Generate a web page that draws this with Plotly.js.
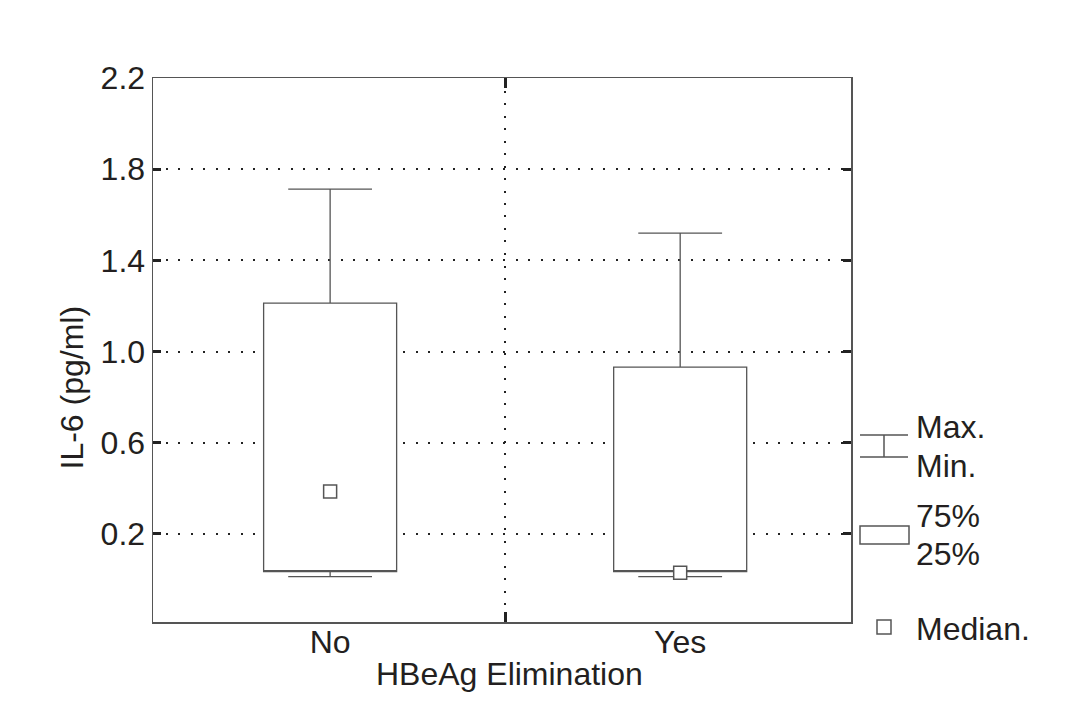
<!DOCTYPE html>
<html><head><meta charset="utf-8">
<script src="https://cdn.plot.ly/plotly-3.0.1.min.js"></script>
<style>body{margin:0;background:#fff}</style>
</head><body><div id="chart" style="width:1074px;height:720px"></div>
<script>
// ---- data ----
const categories = ['No', 'Yes'];
const minVals    = [0.013, 0.013];
const q1Vals     = [0.035, 0.035];
const medianVals = [0.386, 0.030];
const q3Vals     = [1.213, 0.932];
const maxVals    = [1.713, 1.520];
const yTickVals  = [0.2, 0.6, 1.0, 1.4, 1.8, 2.2];
const yTickText  = ['0.2', '0.6', '1.0', '1.4', '1.8', '2.2'];
const xTitle = 'HBeAg Elimination';
const yTitle = 'IL-6 (pg/ml)';
const legendTexts = ['Max.', 'Min.', '75%', '25%', 'Median.'];

const FONT = 'Liberation Sans, Arial, Helvetica, sans-serif';
const TXT = '#231f20';
const LINE = '#555555';
const DOT = '2px,10.5px';

// layout helpers for the hand-drawn legend (pixel -> paper)
const L = 153, R = 851, T = 78, B = 622;
const PX = X => (X - L) / (R - L);
const PY = Y => (B - Y) / (B - T);

const traces = [
  {
    type: 'box',
    x: categories,
    q1: q1Vals,
    median: q1Vals,          // median shown as square marker, not a line
    q3: q3Vals,
    lowerfence: minVals,
    upperfence: maxVals,
    boxpoints: false,
    width: 0.38,
    whiskerwidth: 0.63,
    fillcolor: '#ffffff',
    line: {color: LINE, width: 1.3},
    hoverinfo: 'skip',
    showlegend: false
  },
  {
    type: 'scatter',
    mode: 'markers',
    x: categories,
    y: medianVals,
    marker: {symbol: 'square', size: 13, color: '#ffffff', line: {color: LINE, width: 1.5}},
    hoverinfo: 'skip',
    showlegend: false,
    cliponaxis: false
  },
  {x: [], y: [], xaxis: 'x2', yaxis: 'y', type: 'scatter', showlegend: false, hoverinfo: 'skip'}
];

const shapes = [];
function seg(x0, y0, x1, y1) {
  shapes.push({type: 'line', xref: 'paper', yref: 'paper', x0: PX(x0), y0: PY(y0), x1: PX(x1), y1: PY(y1),
    line: {color: LINE, width: 1.5}});
}
seg(860, 435, 908, 435);
seg(860, 457, 908, 457);
seg(884, 435, 884, 457);
shapes.push({type: 'rect', xref: 'paper', yref: 'paper', x0: PX(860), x1: PX(909), y0: PY(544), y1: PY(526),
  line: {color: LINE, width: 1.5}, fillcolor: '#ffffff'});
shapes.push({type: 'rect', xref: 'paper', yref: 'paper', x0: PX(877), x1: PX(891), y0: PY(634), y1: PY(620),
  line: {color: LINE, width: 1.5}, fillcolor: '#ffffff'});

const legendY = [426.5, 466, 515.5, 553.5, 628.5];
const annotations = legendTexts.map((t, i) => ({
  text: t, xref: 'paper', yref: 'paper', x: PX(914), y: PY(legendY[i]),
  xanchor: 'left', yanchor: 'middle', showarrow: false,
  font: {family: FONT, size: 32, color: TXT}
}));
annotations.push({
  text: xTitle, xref: 'paper', yref: 'paper', x: PX(509), y: PY(673.5),
  xanchor: 'center', yanchor: 'middle', showarrow: false,
  font: {family: FONT, size: 32, color: TXT}
});
annotations.push({
  text: yTitle, xref: 'paper', yref: 'paper', x: PX(72), y: PY(387.5), textangle: -90,
  xanchor: 'center', yanchor: 'middle', showarrow: false,
  font: {family: FONT, size: 32, color: TXT}
});

const layout = {
  width: 1074, height: 720,
  margin: {l: L, r: 1074 - R, t: T, b: 720 - B},
  paper_bgcolor: '#ffffff', plot_bgcolor: '#ffffff',
  showlegend: false,
  font: {family: FONT, size: 32, color: TXT},
  xaxis: {
    type: 'category', range: [-0.506, 1.488],
    showgrid: false, zeroline: false, ticks: '',
    showline: true, mirror: true, linecolor: LINE, linewidth: 1.5,
    ticklabelstandoff: -9,
    tickfont: {family: FONT, size: 32, color: TXT}
  },
  xaxis2: {
    overlaying: 'x', anchor: 'y', type: 'linear', range: [-0.506, 1.488],
    tickvals: [0.5], showticklabels: false,
    ticks: 'inside', ticklen: 10, tickwidth: 3, tickcolor: '#222',
    mirror: 'ticks', showline: false, zeroline: false,
    showgrid: true, gridcolor: '#222', gridwidth: 2, griddash: DOT
  },
  yaxis: {
    range: [-0.186, 2.2], tickvals: yTickVals, ticktext: yTickText,
    ticks: 'inside', ticklen: 8, tickwidth: 3, tickcolor: '#222',
    showline: true, mirror: 'ticks', linecolor: LINE, linewidth: 1.5,
    showgrid: true, gridcolor: '#222', gridwidth: 2, griddash: DOT,
    zeroline: false,
    tickfont: {family: FONT, size: 32, color: TXT}
  },
  shapes: shapes,
  annotations: annotations
};

Plotly.newPlot('chart', traces, layout, {staticPlot: true, displayModeBar: false});
</script>
</body></html>
